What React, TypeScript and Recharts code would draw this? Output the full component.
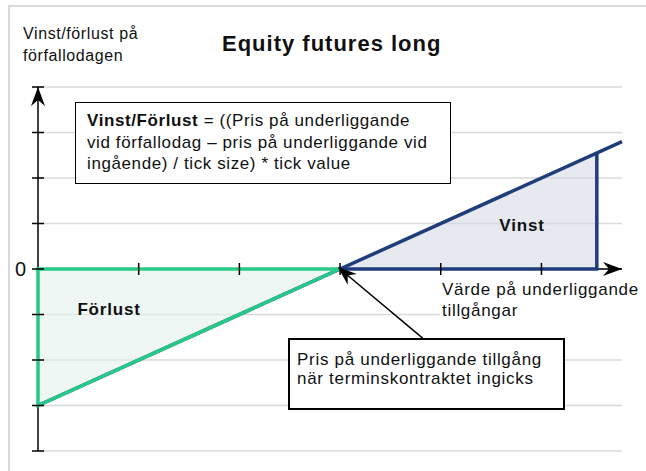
import { ComposedChart, Line, Area, Scatter, XAxis, YAxis, CartesianGrid, ReferenceLine } from 'recharts';

const xTicks = [1, 2, 3, 4, 5];
const yTicks = [-4, -3, -2, -1, 0, 1, 2, 3, 4];
const xMax = 5.8;
const yMax = 4;

// payoff of the long position at expiry
const payoffLine = [{ x: 0, y: -3 }, { x: 5.8, y: 2.8 }];
const lossArea = [{ x: 0, y: -3 }, { x: 3, y: 0 }];
const lossOutline = [{ x: 3, y: 0 }, { x: 0, y: 0 }, { x: 0, y: -3 }, { x: 3, y: 0 }];
const gainArea = [{ x: 3, y: 0 }, { x: 5.55, y: 2.55 }];
const gainOutline = [{ x: 3, y: 0 }, { x: 5.55, y: 0 }, { x: 5.55, y: 2.55 }];
const calloutArrow = [{ x: 3.82, y: -1.52 }, { x: 3, y: 0 }];

const NAVY = '#1f3d7a';
const GREEN = '#27c987';
const FONT = '"Liberation Sans", Arial, sans-serif';

const xTickMarks = xTicks.map((x) => ({ x, y: 0 }));
const yTickMarks = yTicks.map((y) => ({ x: 0, y }));
const arrowTips = [
  { x: xMax, y: 0, angle: 0, off: 0 },
  { x: 0, y: yMax, angle: -90, off: 0 },
  { x: calloutArrow[1].x, y: calloutArrow[1].y, angle: -139.6, off: 3 },
];

function XTickMark(props: any) {
  const { cx, cy } = props;
  return <line x1={cx} x2={cx} y1={cy - 6} y2={cy + 6} stroke="#000" strokeWidth={1.5} />;
}

function YTickMark(props: any) {
  const { cx, cy } = props;
  return <line x1={cx - 6} x2={cx + 6} y1={cy} y2={cy} stroke="#000" strokeWidth={1.5} />;
}

function ArrowHead(props: any) {
  const { cx, cy, payload } = props;
  const a = (payload.angle * Math.PI) / 180;
  const tx = cx + Math.cos(a) * payload.off;
  const ty = cy + Math.sin(a) * payload.off;
  return (
    <path
      d="M0,0 L-19,-7 L-13,0 L-19,7 Z"
      fill="#000"
      transform={`translate(${tx},${ty}) rotate(${payload.angle})`}
    />
  );
}

function ZeroTick(props: any) {
  const { x, y, payload } = props;
  if (payload.value !== 0) return <g />;
  return (
    <text x={x} y={y} dy={7} textAnchor="end" fontSize={20} fill="#111" fontFamily={FONT}>
      0
    </text>
  );
}

export default function App() {
  return (
    <div style={{ position: 'absolute', left: 0, top: 0, width: 646, height: 471, background: '#fff', fontFamily: FONT, color: '#111', overflow: 'hidden' }}>
      <div style={{ position: 'absolute', left: 8, top: 5, width: 640, height: 470, borderLeft: '2px solid #d9d9d9', borderTop: '2px solid #d9d9d9' }} />

      <ComposedChart width={646} height={471} margin={{ top: 87, right: 24, bottom: 20, left: 0 }} style={{ position: 'absolute', left: 0, top: 0 }}>
        <CartesianGrid vertical={false} stroke="#d9d9d9" strokeWidth={1.5} />
        <XAxis type="number" dataKey="x" domain={[0, xMax]} ticks={xTicks} hide />
        <YAxis
          type="number"
          domain={[-yMax, yMax]}
          ticks={yTicks}
          width={38}
          axisLine={false}
          tickLine={false}
          tickSize={0}
          tickMargin={12}
          tick={ZeroTick}
        />
        <ReferenceLine y={0} stroke="#000" strokeWidth={1.5} zIndex={-50} />
        <ReferenceLine x={0} stroke="#000" strokeWidth={1.5} zIndex={-50} />
        <Area data={gainArea} dataKey="y" baseValue={0} type="linear" stroke="none" fill="#d5dae6" fillOpacity={0.6} isAnimationActive={false} />
        <Area data={lossArea} dataKey="y" baseValue={0} type="linear" stroke="none" fill="#e3f2eb" fillOpacity={0.6} isAnimationActive={false} />
        <Line data={payoffLine} dataKey="y" type="linear" stroke={NAVY} strokeWidth={3.5} dot={false} isAnimationActive={false} />
        <Line data={gainOutline} dataKey="y" type="linear" stroke={NAVY} strokeWidth={3.5} dot={false} isAnimationActive={false} />
        <Line data={lossOutline} dataKey="y" type="linear" stroke={GREEN} strokeWidth={3.5} dot={false} isAnimationActive={false} />
        <ReferenceLine segment={calloutArrow} stroke="#000" strokeWidth={1.5} />
        <Scatter data={xTickMarks} dataKey="y" shape={XTickMark} isAnimationActive={false} />
        <Scatter data={yTickMarks} dataKey="y" shape={YTickMark} isAnimationActive={false} />
        <Scatter data={arrowTips} dataKey="y" shape={ArrowHead} isAnimationActive={false} />
      </ComposedChart>

      <div style={{ position: 'absolute', left: 23, top: 22.5, fontSize: 16, lineHeight: '22px', letterSpacing: 0.6, whiteSpace: 'nowrap' }}>
        Vinst/förlust på<br />förfallodagen
      </div>
      <div style={{ position: 'absolute', left: 222, top: 31.4, fontSize: 22, lineHeight: '26px', fontWeight: 'bold', letterSpacing: 1, whiteSpace: 'nowrap' }}>
        Equity futures long
      </div>

      <div style={{ position: 'absolute', left: 75, top: 102, width: 376, height: 82, boxSizing: 'border-box', border: '1.5px solid #000', background: '#fff', padding: '7px 0 0 11px', fontSize: 17, lineHeight: '21.5px', letterSpacing: 0.6, whiteSpace: 'nowrap' }}>
        <b>Vinst/Förlust</b> = ((Pris på underliggande<br />
        vid förfallodag – pris på underliggande vid<br />
        ingående) / tick size) * tick value
      </div>

      <div style={{ position: 'absolute', left: 288, top: 338, width: 277, height: 72, boxSizing: 'border-box', border: '2px solid #000', background: '#fff', padding: '9.6px 0 0 7px', fontSize: 17, lineHeight: '19px', letterSpacing: 0.7, whiteSpace: 'nowrap' }}>
        Pris på underliggande tillgång<br />
        när terminskontraktet ingicks
      </div>

      <div style={{ position: 'absolute', left: 440, top: 277, width: 200, height: 44, boxSizing: 'border-box', background: '#fff', padding: '1.6px 0 0 2px', fontSize: 17, lineHeight: '21px', letterSpacing: 0.7, whiteSpace: 'nowrap' }}>
        Värde på underliggande<br />tillgångar
      </div>

      <div style={{ position: 'absolute', left: 522, top: 225, transform: 'translate(-50%, -50%)', fontSize: 17, lineHeight: 1, fontWeight: 'bold', letterSpacing: 0.8 }}>
        Vinst
      </div>
      <div style={{ position: 'absolute', left: 109, top: 309, transform: 'translate(-50%, -50%)', fontSize: 17, lineHeight: 1, fontWeight: 'bold', letterSpacing: 0.8 }}>
        Förlust
      </div>
    </div>
  );
}
